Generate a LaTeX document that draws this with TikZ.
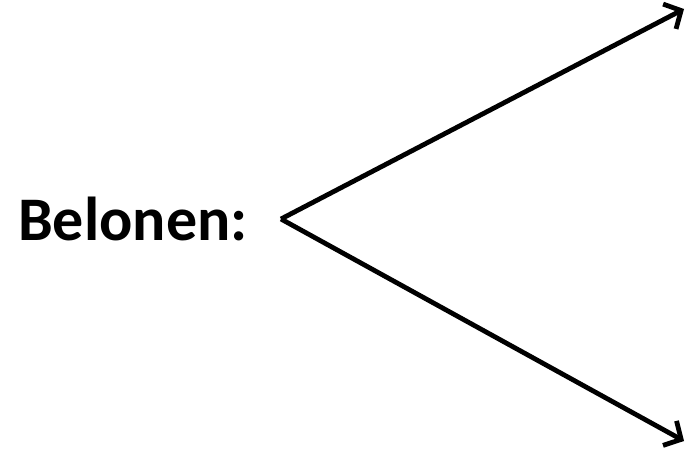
\documentclass[tikz,border=0pt]{standalone}
\usepackage{fontspec}
\setmainfont{Carlito}
\usetikzlibrary{arrows.meta}

\begin{document}
\begin{tikzpicture}[x=1pt, y=1pt, >={Straight Barb[length=13pt, width=28pt]}]
  % Canvas
  \useasboundingbox (0,0) rectangle (687,450);

  % Label
  \node[anchor=base west, inner sep=0pt, font=\fontsize{62}{64}\selectfont\bfseries] (belonen) at (18,209) {Belonen:};

  % Fork point and arrow ends
  \coordinate (fork) at (281,231);
  \coordinate (up_end) at (684,441);
  \coordinate (down_end) at (684,9);

  % Arrows
  \draw[->, line width=4.8pt, line join=miter] (fork) -- (up_end);
  \draw[->, line width=4.8pt, line join=miter] (fork) -- (down_end);
\end{tikzpicture}
\end{document}
